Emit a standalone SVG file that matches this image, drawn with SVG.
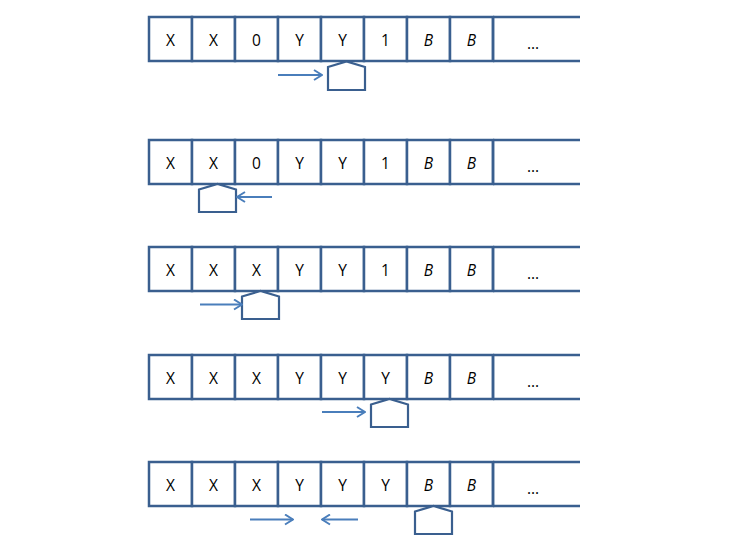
<svg xmlns="http://www.w3.org/2000/svg" width="737" height="541" viewBox="0 0 737 541">
<defs>
<style>
.cell{fill:#ffffff;stroke:#3A5F8F;stroke-width:2.5}
.edge{stroke:#3A5F8F;stroke-width:2.5;fill:none}
.head{fill:#ffffff;stroke:#3A5F8F;stroke-width:2.2;stroke-linejoin:miter}
.arr{stroke:#4A7EBB;stroke-width:2;fill:none;marker-end:url(#ah)}
text{font-family:"Open Sans","Liberation Sans",Arial,sans-serif;font-size:15.5px;fill:#000;text-anchor:middle}
.i{font-style:italic}
</style>
<marker id="ah" viewBox="0 0 10 12" refX="9" refY="6" markerWidth="10" markerHeight="12" markerUnits="userSpaceOnUse" orient="auto">
<path d="M1,1 L9,6 L1,11" fill="none" stroke="#4A7EBB" stroke-width="2"/>
</marker>
<g id="tape">
<rect class="cell" x="149" y="0" width="43" height="44"/>
<rect class="cell" x="192" y="0" width="43" height="44"/>
<rect class="cell" x="235" y="0" width="43" height="44"/>
<rect class="cell" x="278" y="0" width="43" height="44"/>
<rect class="cell" x="321" y="0" width="43" height="44"/>
<rect class="cell" x="364" y="0" width="43" height="44"/>
<rect class="cell" x="407" y="0" width="43" height="44"/>
<rect class="cell" x="450" y="0" width="43" height="44"/>
<path class="edge" d="M493,0 H580 M493,44 H580 M493,0 V44"/>
</g>
</defs>

<g id="tape1">
<use href="#tape" x="0" y="17"/>
<text x="170.5" y="46">X</text><text x="213.5" y="46">X</text><text x="256.5" y="46">0</text><text x="299.5" y="46">Y</text><text x="342.5" y="46">Y</text><text x="385.5" y="46">1</text><text class="i" x="428.5" y="46">B</text><text class="i" x="471.5" y="46">B</text><text x="533" y="49">...</text>
</g>
<g id="head1"><path class="head" d="M328,67 L346.5,61.5 L365,67 V90 H328 Z"/></g>

<g id="tape2">
<use href="#tape" x="0" y="140"/>
<text x="170.5" y="169">X</text><text x="213.5" y="169">X</text><text x="256.5" y="169">0</text><text x="299.5" y="169">Y</text><text x="342.5" y="169">Y</text><text x="385.5" y="169">1</text><text class="i" x="428.5" y="169">B</text><text class="i" x="471.5" y="169">B</text><text x="533" y="172">...</text>
</g>
<g id="head2"><path class="head" d="M199,189.5 L217.5,184 L236,189.5 V212 H199 Z"/></g>

<g id="tape3">
<use href="#tape" x="0" y="247"/>
<text x="170.5" y="276">X</text><text x="213.5" y="276">X</text><text x="256.5" y="276">X</text><text x="299.5" y="276">Y</text><text x="342.5" y="276">Y</text><text x="385.5" y="276">1</text><text class="i" x="428.5" y="276">B</text><text class="i" x="471.5" y="276">B</text><text x="533" y="279">...</text>
</g>
<g id="head3"><path class="head" d="M242,296.5 L260.5,291 L279,296.5 V319 H242 Z"/></g>

<g id="tape4">
<use href="#tape" x="0" y="355"/>
<text x="170.5" y="384">X</text><text x="213.5" y="384">X</text><text x="256.5" y="384">X</text><text x="299.5" y="384">Y</text><text x="342.5" y="384">Y</text><text x="385.5" y="384">Y</text><text class="i" x="428.5" y="384">B</text><text class="i" x="471.5" y="384">B</text><text x="533" y="387">...</text>
</g>
<g id="head4"><path class="head" d="M371,404.5 L389.5,399 L408,404.5 V427 H371 Z"/></g>

<g id="tape5">
<use href="#tape" x="0" y="462"/>
<text x="170.5" y="491">X</text><text x="213.5" y="491">X</text><text x="256.5" y="491">X</text><text x="299.5" y="491">Y</text><text x="342.5" y="491">Y</text><text x="385.5" y="491">Y</text><text class="i" x="428.5" y="491">B</text><text class="i" x="471.5" y="491">B</text><text x="533" y="494">...</text>
</g>
<g id="head5"><path class="head" d="M415,511.5 L433.5,506 L452,511.5 V534 H415 Z"/></g>

<g id="connectors">
<path class="arr" d="M278,75 H322"/>
<path class="arr" d="M272,197 H237"/>
<path class="arr" d="M200,304.5 H242"/>
<path class="arr" d="M322,412 H365"/>
<path class="arr" d="M250,519.5 H293"/>
<path class="arr" d="M358,519.5 H322"/>
</g>
</svg>
